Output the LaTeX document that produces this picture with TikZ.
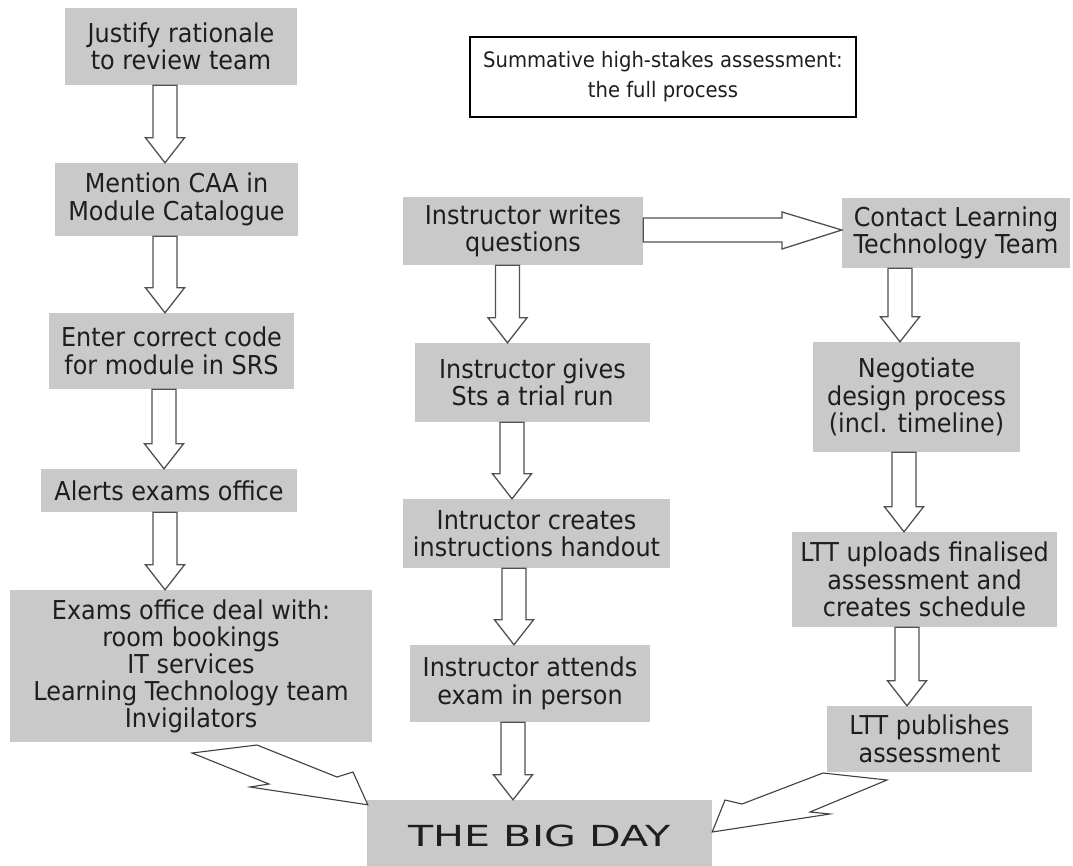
\documentclass[tikz,border=0pt]{standalone}
\usepackage{fontspec}
\setmainfont{DejaVu Sans}[FakeStretch=0.92]
\newfontfamily\bigfont{DejaVu Sans}
\usetikzlibrary{calc}
\definecolor{boxgray}{RGB}{201,201,201}
\definecolor{txt}{RGB}{30,30,30}
\definecolor{arr}{RGB}{80,80,80}
\newcommand\varr[3]{\draw[blk] let \p1=(#1.south), \p2=(#2.north) in
  (#3pt-12pt,\y1) -- (#3pt-12pt,\y2+25pt) -- (#3pt-19.5pt,\y2+25pt) -- (#3pt,\y2)
  -- (#3pt+19.5pt,\y2+25pt) -- (#3pt+12pt,\y2+25pt) -- (#3pt+12pt,\y1) -- cycle;}
\begin{document}
\begin{tikzpicture}[x=1pt,y=-1pt,
  box/.style={fill=boxgray, text=txt, inner sep=0pt, align=center,
    font=\fontsize{26}{27.5}\selectfont},
  blk/.style={draw=arr, line width=1.3pt, fill=white, line join=miter},
  diag/.style={draw=txt!85, line width=1.1pt, fill=white, line join=miter}]
\fill[white] (0,0) rectangle (1073,865);
\useasboundingbox (0,0) rectangle (1073,865);
% title
\node[draw=black, line width=1.5pt, fill=white, text=txt, align=center,
  minimum width=386pt, minimum height=80pt, inner sep=0pt,
  font=\fontsize{21.3}{30}\selectfont] (title) at (663,77)
  {Summative high-stakes assessment:\\the full process};
% left column
\node[box, minimum width=232pt, minimum height=77pt] (just) at (181,46.5) {Justify rationale\\to review team};
\node[box, minimum width=243pt, minimum height=73pt] (mention) at (176.5,199.5) {Mention CAA in\\Module Catalogue};
\node[box, minimum width=245pt, minimum height=76pt] (enter) at (171.5,351) {Enter correct code\\for module in SRS};
\node[box, minimum width=256pt, minimum height=43pt] (alerts) at (169,490.5) {Alerts exams office};
\node[box, minimum width=362pt, minimum height=152pt, font=\fontsize{26}{27}\selectfont] (exams) at (191,666)
  {Exams office deal with:\\room bookings\\IT services\\Learning Technology team\\Invigilators};
% middle column
\node[box, minimum width=240pt, minimum height=68pt] (writes) at (523,231) {Instructor writes\\questions};
\node[box, minimum width=235pt, minimum height=79pt] (gives) at (532.5,382.5) {Instructor gives\\Sts a trial run};
\node[box, minimum width=267pt, minimum height=69pt] (creates) at (536.5,533.5) {Intructor creates\\instructions handout};
\node[box, minimum width=240pt, minimum height=77pt] (attends) at (530,683.5) {Instructor attends\\exam in person};
% right column
\node[box, minimum width=228pt, minimum height=70pt] (contact) at (956,233) {Contact Learning\\Technology Team};
\node[box, minimum width=207pt, minimum height=110pt] (negotiate) at (916.5,397) {Negotiate\\design process\\(incl. timeline)};
\node[box, minimum width=265pt, minimum height=95pt] (uploads) at (924.5,579.5) {LTT uploads finalised\\assessment and\\creates schedule};
\node[box, minimum width=205pt, minimum height=66pt] (publishes) at (929.5,739) {LTT publishes\\assessment};
% big day
\node[fill=boxgray, text=txt, inner sep=0pt, minimum width=345pt, minimum height=74pt] (bigday) at (539.5,837)
  {\raisebox{2pt}{\scalebox{1.42}[1]{\bigfont\fontsize{29}{29}\selectfont THE BIG DAY}}};
% vertical block arrows
\varr{just}{mention}{165}
\varr{mention}{enter}{165}
\varr{enter}{alerts}{164}
\varr{alerts}{exams}{165}
\varr{writes}{gives}{507.5}
\varr{gives}{creates}{512}
\varr{creates}{attends}{514}
\varr{attends}{bigday}{513}
\varr{contact}{negotiate}{900}
\varr{negotiate}{uploads}{904}
\varr{uploads}{publishes}{907}
% horizontal block arrow
\draw[blk] let \p1=(writes.east), \p2=(contact.west) in
  (\x1,-218pt) -- (782pt,-218pt) -- (782pt,-212pt) -- (\x2,-230pt)
  -- (782pt,-249pt) -- (782pt,-242pt) -- (\x1,-242pt) -- cycle;
% diagonal block arrows
\draw[diag] (192,753) -- (257,745) -- (337,777) -- (353,772)
  -- ($(bigday.north west)+(1,5)$) -- (250,787) -- (269,784) -- cycle;
\draw[diag] (823,773) -- (887,780) -- (810,812) -- (830,814)
  -- ($(bigday.east)+(0,-5)$) -- (725,800) -- (742,804) -- cycle;
\end{tikzpicture}
\end{document}
